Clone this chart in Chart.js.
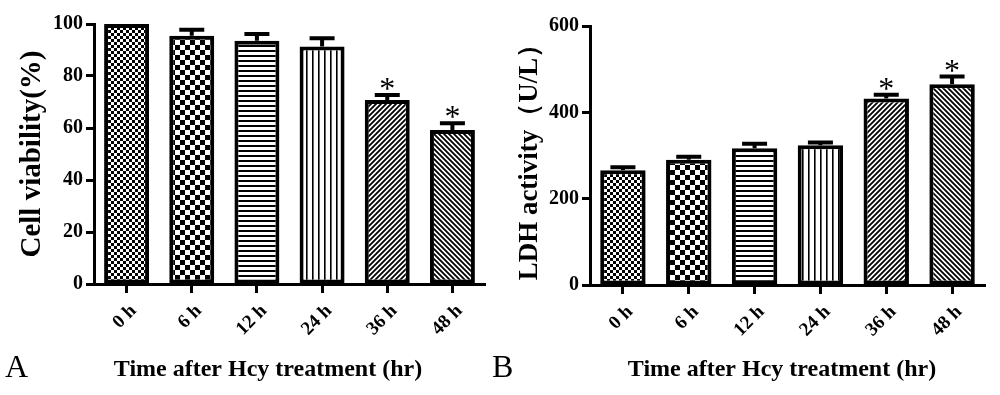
<!DOCTYPE html>
<html>
<head>
<meta charset="utf-8">
<script src="https://cdn.jsdelivr.net/npm/chart.js@4.4.1/dist/chart.umd.min.js"></script>
<style>
body { margin: 0; background: #fff; }
#wrap { position: relative; width: 1000px; height: 395px; }
canvas { position: absolute; top: 0; }
</style>
</head>
<body>
<div id="wrap">
  <canvas id="viabilityChart" width="500" height="395" style="left:0"></canvas>
  <canvas id="ldhChart" width="510" height="395" style="left:490px"></canvas>
</div>
<script>
// data
var timeLabels = ['0 h', '6 h', '12 h', '24 h', '36 h', '48 h'];
var viability = [100, 95.5, 93.6, 91.3, 70.8, 59.2];
var viabilityErr = [0, 2.3, 2.6, 3.2, 1.9, 2.6];
var ldh = [266, 290, 317, 324, 432, 465];
var ldhErr = [7, 7, 10, 6, 9, 18];
var significant = [false, false, false, false, true, true];
var viabilityTicks = [0, 20, 40, 60, 80, 100];
var ldhTicks = [0, 200, 400, 600];

var SERIF = '"Liberation Serif", "Times New Roman", serif';
Chart.defaults.color = '#000';
Chart.defaults.font.family = SERIF;

// fill patterns, one per time point
function makePattern(kind) {
    var c = document.createElement('canvas');
    var g = c.getContext('2d');
    var s;
    if (kind === 'fine') {
        s = 6; c.width = c.height = s;
        g.fillStyle = '#fff'; g.fillRect(0, 0, s, s);
        g.fillStyle = '#000'; g.fillRect(0, 0, 3, 3); g.fillRect(3, 3, 3, 3);
    } else if (kind === 'checker') {
        s = 10; c.width = c.height = s;
        g.fillStyle = '#fff'; g.fillRect(0, 0, s, s);
        g.fillStyle = '#000'; g.fillRect(0, 0, 5, 5); g.fillRect(5, 5, 5, 5);
    } else if (kind === 'hlines') {
        s = 5; c.width = c.height = s;
        g.fillStyle = '#fff'; g.fillRect(0, 0, s, s);
        g.fillStyle = '#000'; g.fillRect(0, 0, s, 2);
    } else if (kind === 'vlines') {
        s = 6; c.width = c.height = s;
        g.fillStyle = '#fff'; g.fillRect(0, 0, s, s);
        g.fillStyle = '#000'; g.fillRect(0, 0, 1.6, s);
    } else {
        s = 5; c.width = c.height = s;
        g.fillStyle = '#fff'; g.fillRect(0, 0, s, s);
        g.strokeStyle = '#000'; g.lineWidth = 1.8;
        g.beginPath();
        if (kind === 'diagUp') {
            g.moveTo(-1, s + 1); g.lineTo(s + 1, -1);
            g.moveTo(-1, 1); g.lineTo(1, -1);
            g.moveTo(s - 1, s + 1); g.lineTo(s + 1, s - 1);
        } else {
            g.moveTo(-1, -1); g.lineTo(s + 1, s + 1);
            g.moveTo(-1, s - 1); g.lineTo(1, s + 1);
            g.moveTo(s - 1, -1); g.lineTo(s + 1, 1);
        }
        g.stroke();
    }
    return g.createPattern(c, 'repeat');
}
var barFills = ['fine', 'checker', 'hlines', 'vlines', 'diagUp', 'diagDown'].map(makePattern);

// error bars, stars, x title and panel letter
var errorBars = {
    id: 'errorBars',
    afterDatasetsDraw: function (chart, args, opts) {
        var ctx = chart.ctx;
        var yScale = chart.scales.y;
        var values = chart.data.datasets[0].data;
        var meta = chart.getDatasetMeta(0);
        ctx.save();
        ctx.strokeStyle = '#000';
        ctx.fillStyle = '#000';
        ctx.lineWidth = 4;
        meta.data.forEach(function (bar, i) {
            var top = yScale.getPixelForValue(values[i] + opts.errors[i]);
            if (opts.errors[i] > 0) {
                ctx.beginPath();
                ctx.moveTo(bar.x, bar.y);
                ctx.lineTo(bar.x, top);
                ctx.moveTo(bar.x - 12.5, top);
                ctx.lineTo(bar.x + 12.5, top);
                ctx.stroke();
            }
            if (opts.marks[i]) {
                ctx.font = '32px ' + SERIF;
                ctx.textAlign = 'center';
                ctx.textBaseline = 'alphabetic';
                ctx.fillText('*', bar.x, top + 4);
            }
        });
        ctx.textBaseline = 'alphabetic';
        ctx.textAlign = 'center';
        ctx.font = 'bold 24px ' + SERIF;
        ctx.fillText(opts.title, opts.titleX, opts.titleY);
        ctx.textAlign = 'left';
        ctx.font = '32px ' + SERIF;
        ctx.fillText(opts.letter, opts.letterX, opts.letterY);
        ctx.restore();
    }
};

function makeChart(id, values, errors, ticks, yTitle, cfg) {
    return new Chart(document.getElementById(id), {
        type: 'bar',
        data: {
            labels: timeLabels,
            datasets: [{
                data: values,
                backgroundColor: barFills,
                borderColor: '#000',
                borderWidth: 4,
                borderSkipped: false,
                categoryPercentage: 1,
                barPercentage: 0.69
            }]
        },
        options: {
            responsive: false,
            animation: false,
            devicePixelRatio: 1,
            layout: { padding: { top: cfg.top, right: 15, bottom: 0, left: 0 } },
            plugins: {
                legend: { display: false },
                tooltip: { enabled: false },
                errorBars: {
                    errors: errors,
                    marks: significant,
                    title: 'Time after Hcy treatment (hr)',
                    titleX: cfg.titleX,
                    titleY: 376,
                    letter: cfg.letter,
                    letterX: cfg.letterX,
                    letterY: 377
                }
            },
            scales: {
                x: {
                    offset: true,
                    grid: { display: true, drawOnChartArea: false, offset: false, tickLength: 9, tickWidth: 3, tickColor: '#000' },
                    border: { display: true, width: 3, color: '#000' },
                    ticks: { autoSkip: false, minRotation: 45, maxRotation: 45, padding: 7, labelOffset: 7, font: { size: 19, weight: 'bold' } },
                    afterFit: function (s) { s.height = cfg.xHeight; }
                },
                y: {
                    min: 0,
                    max: ticks[ticks.length - 1],
                    afterBuildTicks: function (s) { s.ticks = ticks.map(function (v) { return { value: v }; }); },
                    grid: { display: true, drawOnChartArea: false, tickLength: 8, tickWidth: 3, tickColor: '#000' },
                    border: { display: true, width: 3, color: '#000' },
                    ticks: { padding: 3, font: { size: 20, weight: 'bold' } },
                    title: { display: true, text: yTitle, padding: { top: cfg.yTitlePad, bottom: 0 }, font: { size: cfg.yTitleSize, weight: 'bold' } },
                    afterFit: function (s) { s.width = cfg.yWidth; }
                }
            }
        },
        plugins: [errorBars]
    });
}

var viabilityChart = makeChart('viabilityChart', viability, viabilityErr, viabilityTicks, 'Cell viability(%)',
    { top: 24, xHeight: 111, yWidth: 94, yTitlePad: 15, yTitleSize: 29, titleX: 268, letter: 'A', letterX: 5 });
var ldhChart = makeChart('ldhChart', ldh, ldhErr, ldhTicks, 'LDH activity（U/L）',
    { top: 26, xHeight: 110, yWidth: 100, yTitlePad: 24, yTitleSize: 27, titleX: 292, letter: 'B', letterX: 2 });
</script>
</body>
</html>
